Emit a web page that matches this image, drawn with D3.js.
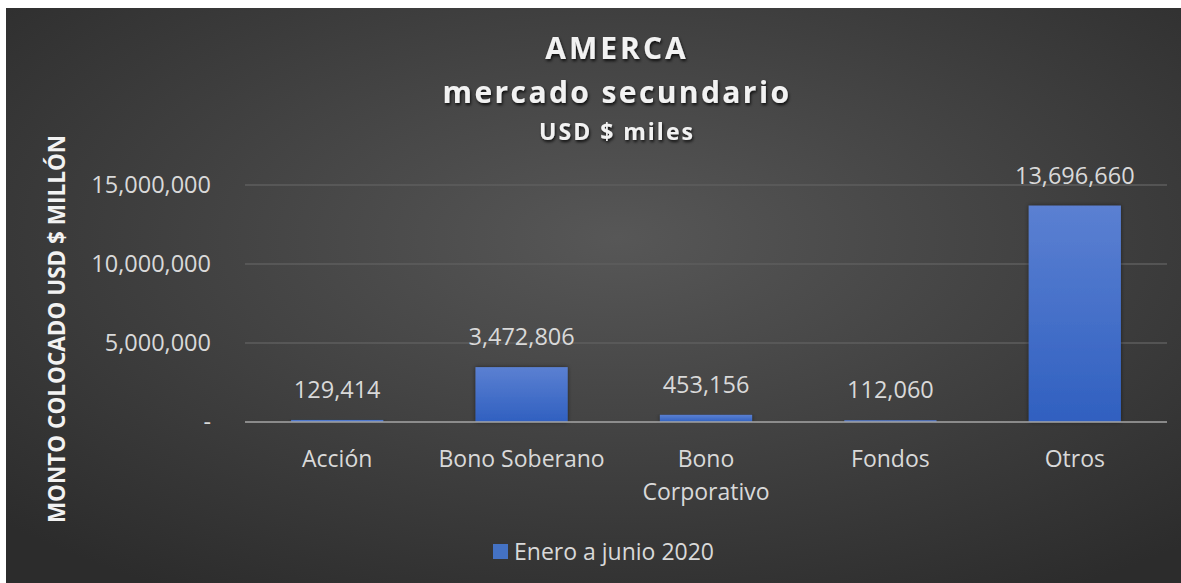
<!DOCTYPE html>
<html>
<head>
<meta charset="utf-8">
<script src="https://cdn.jsdelivr.net/npm/d3@7"></script>
<style>
  html, body { margin: 0; padding: 0; background: #ffffff; }
  svg { display: block; }
  text { font-family: "Open Sans", "Noto Sans", sans-serif; }
</style>
</head>
<body>
<div id="chart"></div>
<script>
// chart data
const categories = ["Acción", "Bono Soberano", "Bono Corporativo", "Fondos", "Otros"];
const values = [129414, 3472806, 453156, 112060, 13696660];
const yTicks = [0, 5000000, 10000000, 15000000];
const seriesName = "Enero a junio 2020";
const titleLines = ["AMERCA", "mercado secundario", "USD $ miles"];

const W = 1181, H = 583;
const margin = { top: 185, right: 14, bottom: 161, left: 245 },
      width = W - margin.left - margin.right,
      height = H - margin.top - margin.bottom;

const svg = d3.select("#chart").append("svg")
    .attr("width", W)
    .attr("height", H);

const defs = svg.append("defs");

// background radial gradient
const bg = defs.append("radialGradient")
    .attr("id", "bg")
    .attr("cx", "52%").attr("cy", "40%").attr("r", "72%");
bg.append("stop").attr("offset", "0%").attr("stop-color", "#575757");
bg.append("stop").attr("offset", "100%").attr("stop-color", "#2c2c2c");

const barGrad = defs.append("linearGradient")
    .attr("id", "barGrad")
    .attr("x1", "0%").attr("x2", "0%").attr("y1", "0%").attr("y2", "100%");
barGrad.append("stop").attr("offset", "0%").attr("stop-color", "#5b80d2");
barGrad.append("stop").attr("offset", "100%").attr("stop-color", "#3060c0");

const shadow = defs.append("filter").attr("id", "shadow")
    .attr("x", "-10%").attr("y", "-20%").attr("width", "120%").attr("height", "150%");
shadow.append("feDropShadow")
    .attr("dx", 1).attr("dy", 2).attr("stdDeviation", 1.5)
    .attr("flood-color", "#000").attr("flood-opacity", 0.8);

const barShadow = defs.append("filter").attr("id", "barShadow")
    .attr("x", "-20%").attr("y", "-10%").attr("width", "140%").attr("height", "120%");
barShadow.append("feDropShadow")
    .attr("dx", 0).attr("dy", 0).attr("stdDeviation", 2)
    .attr("flood-color", "#000").attr("flood-opacity", 0.5);

svg.append("rect")
    .attr("x", 6).attr("y", 8)
    .attr("width", W - 6).attr("height", H - 8)
    .attr("fill", "url(#bg)");

const g = svg.append("g")
    .attr("transform", "translate(" + margin.left + "," + margin.top + ")");

const x = d3.scaleBand()
    .domain(categories)
    .range([0, width])
    .paddingInner(0.5)
    .paddingOuter(0.25);

const y = d3.scaleLinear()
    .domain([0, 15000000])
    .range([height, 0]);

// gridlines
g.selectAll(".grid")
    .data(yTicks.filter(d => d > 0))
    .enter().append("line")
    .attr("x1", 0).attr("x2", width)
    .attr("y1", d => y(d)).attr("y2", d => y(d))
    .attr("stroke", "#5e5e5e")
    .attr("stroke-width", 1.5);

// y axis labels
const yAxis = g.append("g")
    .call(d3.axisLeft(y).tickValues(yTicks).tickSize(0).tickPadding(34)
        .tickFormat(d => d === 0 ? "-" : d3.format(",")(d)));
yAxis.select(".domain").remove();
yAxis.selectAll(".tick text")
    .attr("fill", "#d9d9d9")
    .style("font-size", "23.5px")
    .style("font-family", "\"Open Sans\", sans-serif");

// bars
g.selectAll(".bar")
    .data(values)
    .enter().append("rect")
    .attr("class", "bar")
    .attr("x", (d, i) => x(categories[i]))
    .attr("y", d => y(d))
    .attr("width", x.bandwidth())
    .attr("height", d => height - y(d))
    .attr("fill", "url(#barGrad)")
    .attr("filter", "url(#barShadow)");

// baseline
g.append("line")
    .attr("x1", 0).attr("x2", width)
    .attr("y1", y(0)).attr("y2", y(0))
    .attr("stroke", "#a6a6a6")
    .attr("stroke-width", 1.5);

// value labels
g.selectAll(".val")
    .data(values)
    .enter().append("text")
    .attr("x", (d, i) => x(categories[i]) + x.bandwidth() / 2)
    .attr("y", d => y(d) - 22)
    .attr("text-anchor", "middle")
    .attr("fill", "#d9d9d9")
    .style("font-size", "23.5px")
    .text(d => d3.format(",")(d));

// category labels (wrapped)
const wrapWords = { "Bono Corporativo": ["Bono", "Corporativo"] };
const xl = g.selectAll(".cat")
    .data(categories)
    .enter().append("text")
    .attr("text-anchor", "middle")
    .attr("fill", "#d9d9d9")
    .style("font-size", "23px")
    .attr("x", d => x(d) + x.bandwidth() / 2)
    .attr("y", height + 45);
xl.each(function(d) {
    const lines = wrapWords[d] || [d];
    const t = d3.select(this);
    lines.forEach((ln, k) => {
        t.append("tspan")
            .attr("x", x(d) + x.bandwidth() / 2)
            .attr("dy", k === 0 ? 0 : 33)
            .text(ln);
    });
});

// titles
const titleSizes = [30, 30, 23];
const titleY = [59, 103, 140];
const titleSpacing = [3, 2.4, 2];
svg.selectAll(".title")
    .data(titleLines)
    .enter().append("text")
    .attr("x", 617)
    .attr("y", (d, i) => titleY[i])
    .attr("text-anchor", "middle")
    .attr("fill", "#f2f2f2")
    .attr("font-weight", "bold")
    .attr("letter-spacing", (d, i) => titleSpacing[i])
    .attr("filter", "url(#shadow)")
    .style("font-size", (d, i) => titleSizes[i] + "px")
    .text(d => d);

// y axis title
svg.append("text")
    .attr("transform", "translate(65,329) rotate(-90)")
    .attr("text-anchor", "middle")
    .attr("fill", "#f2f2f2")
    .attr("font-weight", "bold")
    .style("font-size", "22.5px")
    .text("MONTO COLOCADO USD $ MILLÓN");

// legend
const legend = svg.append("g").attr("transform", "translate(493,544)");
legend.append("rect")
    .attr("width", 15).attr("height", 15)
    .attr("fill", "#4472c4");
legend.append("text")
    .attr("x", 21).attr("y", 16)
    .attr("fill", "#d9d9d9")
    .style("font-size", "23px")
    .text(seriesName);
</script>
</body>
</html>
